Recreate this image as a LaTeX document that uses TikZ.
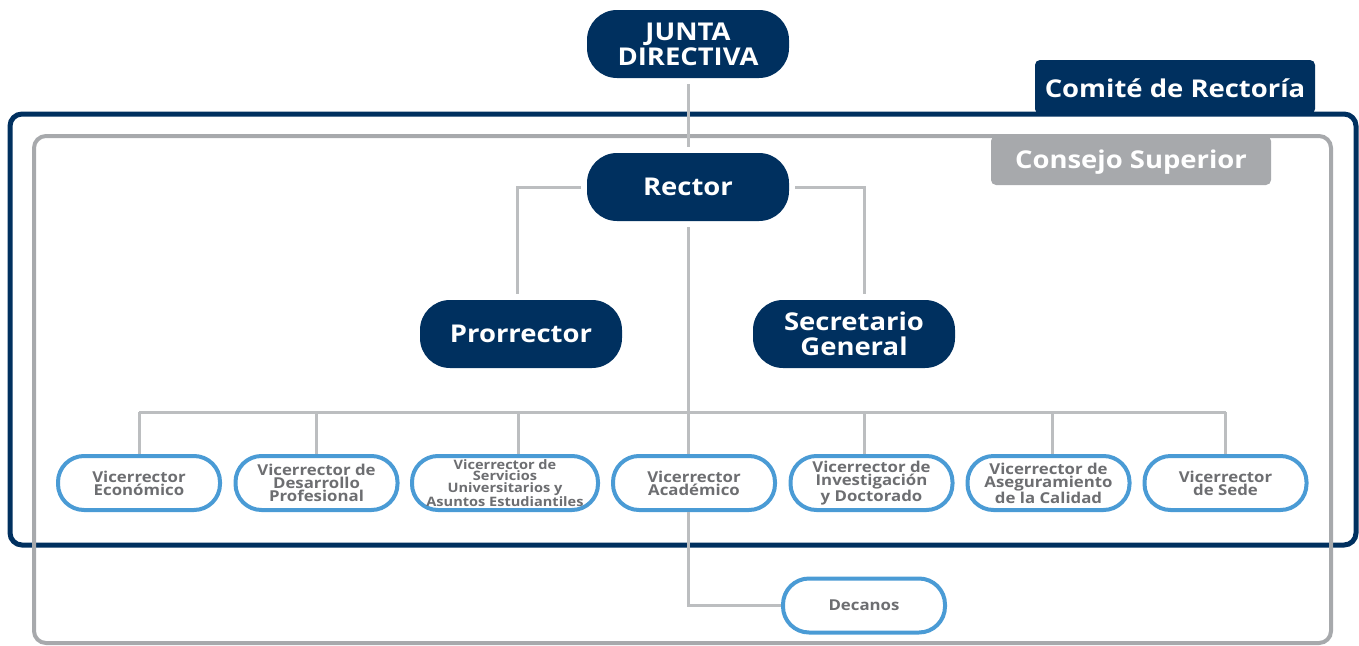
\documentclass[tikz,border=0pt]{standalone}
\usepackage{fontspec}
\setmainfont{Open Sans}[FakeStretch=1.12]
\definecolor{navy}{HTML}{00305F}
\definecolor{lgray}{HTML}{BCBEC0}
\definecolor{fgray}{HTML}{A7A9AC}
\definecolor{lblue}{HTML}{4A9BD5}
\definecolor{tgray}{HTML}{6D6E71}
\begin{document}
\begin{tikzpicture}[x=1pt,y=-1pt,
  darknode/.style={fill=navy,text=white,font=\bfseries\fontsize{24.5}{25}\selectfont,
    rounded corners=30pt,minimum width=202pt,minimum height=68pt,inner sep=0pt,
    align=center,outer sep=6pt},
  vice/.style={draw=lblue,line width=4pt,fill=white,text=tgray,
    font=\bfseries\fontsize{15}{13}\selectfont,rounded corners=26pt,
    minimum width=162pt,minimum height=54pt,inner sep=0pt,align=center},
  conn/.style={draw=lgray,line width=3pt},
  tablabel/.style={text=white,font=\bfseries\fontsize{24.5}{25}\selectfont,inner sep=0pt}]
\useasboundingbox (0,0) rectangle (1359,645);

% frames
\draw[navy,line width=5pt,rounded corners=12pt] (10,114) rectangle (1356,545);
\fill[navy,rounded corners=5pt] (1035,114) -- (1035,60) -- (1315,60) -- (1315,114) -- cycle;
\node[tablabel] (comite) at (1175,88) {Comité de Rectoría};
\draw[fgray,line width=4pt,rounded corners=12pt] (34,136) rectangle (1331,643);
\fill[fgray,rounded corners=5pt] (991,136) -- (991,185) -- (1271,185) -- (1271,136) -- cycle;
\node[tablabel] (consejo) at (1131,162) {Consejo Superior};

% nodes
\node[darknode] (junta) at (688,44) {JUNTA\\DIRECTIVA};
\node[darknode] (rector) at (688,187) {Rector};
\node[darknode] (pro) at (521,334) {Prorrector};
\node[darknode] (sec) at (854,334) {Secretario\\General};

\node[vice] (v1) at (139,483) {Vicerrector\\Económico};
\node[vice] (v2) at (316.5,483) {Vicerrector de\\Desarrollo\\Profesional};
\node[vice,minimum width=186pt,font=\bfseries\fontsize{13}{11.5}\selectfont] (v3) at (505,483) {Vicerrector de\\Servicios\\Universitarios y\\Asuntos Estudiantiles};
\node[vice] (v4) at (694,483) {Vicerrector\\Académico};
\node[vice] (v5) at (871.5,483) {Vicerrector de\\Investigación\\y Doctorado};
\node[vice] (v6) at (1048.5,483) {Vicerrector de\\Aseguramiento\\de la Calidad};
\node[vice] (v7) at (1225.5,483) {Vicerrector\\de Sede};
\node[vice,font=\bfseries\fontsize{15}{15}\selectfont] (dec) at (864,605.5) {Decanos};

% connectors
\coordinate (busL) at (139,412);
\coordinate (busR) at (1226,412);
\draw[conn] (junta.south) -- (rector.north);
\draw[conn] (rector.west) -| ([xshift=-4pt]pro.north);
\draw[conn] (rector.east) -| ([xshift=10pt]sec.north);
\draw[conn] (busL) -- (busR);
\draw[conn] (v1.north) -- (v1.north |- busL);
\draw[conn] (v2.north) -- (v2.north |- busL);
\draw[conn] ([xshift=13pt]v3.north) -- ([xshift=13pt]v3.north |- busL);
\draw[conn] ([xshift=-7pt]v5.north) -- ([xshift=-7pt]v5.north |- busL);
\draw[conn] ([xshift=4pt]v6.north) -- ([xshift=4pt]v6.north |- busL);
\draw[conn] (v7.north) -- (v7.north |- busL);
\draw[conn] (rector.south) -- (rector.south |- v4.north);
\draw[conn] (rector.south |- v4.south) |- (dec.west);
\end{tikzpicture}
\end{document}
